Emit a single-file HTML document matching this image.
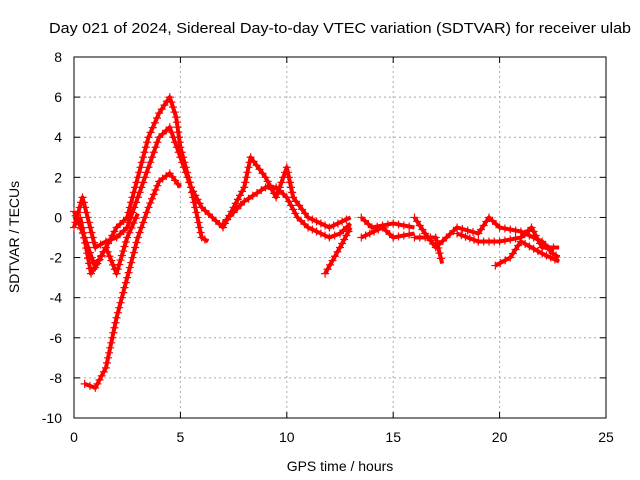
<!DOCTYPE html>
<html><head><meta charset="utf-8"><style>
body{margin:0;background:#fff;}
svg{display:block;font-family:"Liberation Sans",sans-serif;}
</style></head><body>
<svg id="chart" width="640" height="480">
<rect width="640" height="480" fill="#fff"/>
<text x="49" y="33" textLength="582" lengthAdjust="spacingAndGlyphs" font-size="15">Day 021 of 2024, Sidereal Day-to-day VTEC variation (SDTVAR) for receiver ulab</text>
<text x="340" y="471" text-anchor="middle" font-size="14">GPS time / hours</text>
<text transform="translate(19,237) rotate(-90)" text-anchor="middle" font-size="14">SDTVAR / TECUs</text>
<g id="grid"></g>
<g id="axes"></g>
<g id="series"></g>
</svg>
<script>
const xTicks=[0,5,10,15,20,25];
const yTicks=[-10,-8,-6,-4,-2,0,2,4,6,8];
const trackA=[[0.5,-8.3],[1,-8.5],[1.5,-7.5],[2,-5],[2.5,-3],[3,-1],[3.5,0.5],[4,1.8],[4.5,2.2],[5,1.5]];
const trackB=[[0,0.3],[0.5,-1],[1,-2.5],[1.5,-1.5],[2,-0.5],[2.5,0],[3,2],[3.5,4],[4,5.2],[4.5,6],[4.8,5],[5,3.5],[5.5,1.5],[6,0.5],[6.5,0]];
const trackC=[[0,-0.5],[0.4,1],[1,-1.5],[1.5,-1.2],[2,-1],[2.5,-0.5],[3,1],[3.5,2.5],[4,4],[4.5,4.5],[5,3],[5.5,1.5],[6,-1],[6.3,-1.2]];
const trackD=[[0.3,0],[0.8,-2.8],[1.5,-1.5],[2,-2.8],[2.5,-1],[3,0.2]];
const trackE=[[6.5,0],[7,-0.5],[7.5,0.5],[8,1.5],[8.3,3],[9,2],[9.5,1],[10,2.5],[10.3,1],[11,0],[12,-0.5],[13,0]];
const trackF=[[7,-0.3],[8,0.8],[9,1.5],[9.5,1.5],[10,1],[10.5,0],[11,-0.5],[12,-1],[12.5,-0.8],[13,-0.3]];
const trackG=[[11.8,-2.8],[12.5,-1.5],[13,-0.5]];
const trackH=[[13.5,0],[14,-0.5],[15,-0.3],[16,-0.5]];
const trackI=[[13.5,-1],[14.5,-0.5],[15,-1],[16,-0.8]];
const trackJ=[[16,0],[16.5,-0.8],[17,-1.5],[17.5,-1],[18,-0.5],[19,-0.8],[19.5,0],[20,-0.5],[21,-0.7],[22,-1.2],[22.5,-1.8],[22.8,-2]];
const trackK=[[16,-1],[17,-1],[17.3,-2.3]];
const trackL=[[18,-0.8],[19,-1.2],[20,-1.2],[21,-1],[21.5,-0.5],[22,-1.5],[22.8,-1.5]];
const trackM=[[19.8,-2.4],[20.5,-2],[21,-1.2],[22,-1.8],[22.8,-2.2]];
const tracks=[trackA,trackB,trackC,trackD,trackE,trackF,trackG,trackH,trackI,trackJ,trackK,trackL,trackM];

const X0=74,X1=606,Y0=418,Y1=57;
const sx=v=>X0+(v-0)/(25-0)*(X1-X0);
const sy=v=>Y0-(v+10)/(18)*(Y0-Y1);
const NS="http://www.w3.org/2000/svg";
const mk=(t,a,p)=>{const e=document.createElementNS(NS,t);for(const k in a)e.setAttribute(k,a[k]);p.appendChild(e);return e;};
const grid=document.getElementById('grid'),axes=document.getElementById('axes'),ser=document.getElementById('series');
xTicks.forEach(t=>{const x=sx(t);
 if(t>0&&t<25){const l=mk('line',{x1:x,x2:x,y1:Y0,y2:Y1,stroke:'#aaa','stroke-dasharray':'2,3','stroke-width':1},grid);}
 mk('line',{x1:x,x2:x,y1:Y0,y2:Y0-6,stroke:'#000'},axes);mk('line',{x1:x,x2:x,y1:Y1,y2:Y1+6,stroke:'#000'},axes);
 const tx=mk('text',{x:x,y:Y0+24,'text-anchor':'middle','font-size':14},axes);tx.textContent=t;
 });
yTicks.forEach(t=>{const y=sy(t);
 if(t>-10&&t<8){const l=mk('line',{x1:X0,x2:X1,y1:y,y2:y,stroke:'#aaa','stroke-dasharray':'2,3','stroke-width':1},grid);}
 mk('line',{x1:X0,x2:X0+6,y1:y,y2:y,stroke:'#000'},axes);mk('line',{x1:X1,x2:X1-6,y1:y,y2:y,stroke:'#000'},axes);
 const tx=mk('text',{x:X0-12,y:y+5,'text-anchor':'end','font-size':14},axes);tx.textContent=t;
 });
mk('rect',{x:X0,y:Y1,width:X1-X0,height:Y0-Y1,fill:'none',stroke:'#000'},axes);
tracks.forEach(tr=>{
 const pts=tr.map(p=>sx(p[0])+','+sy(p[1])).join(' ');
 const pl=mk('polyline',{points:pts,fill:'none',stroke:'#f00','stroke-width':4,'stroke-linejoin':'round'},ser);
 
 for(let i=0;i<tr.length-1;i++){const ax=sx(tr[i][0]),ay=sy(tr[i][1]),bx=sx(tr[i+1][0]),by=sy(tr[i+1][1]);
  const n=Math.max(1,Math.round(Math.hypot(bx-ax,by-ay)/5));
  for(let k=0;k<n;k++){const x=ax+(bx-ax)*k/n,y=ay+(by-ay)*k/n;
   const m=mk('path',{d:`M${x-4},${y}h8M${x},${y-4}v8`,stroke:'#f00','stroke-width':1.2},ser);
   }}
});
</script>
</body></html>
